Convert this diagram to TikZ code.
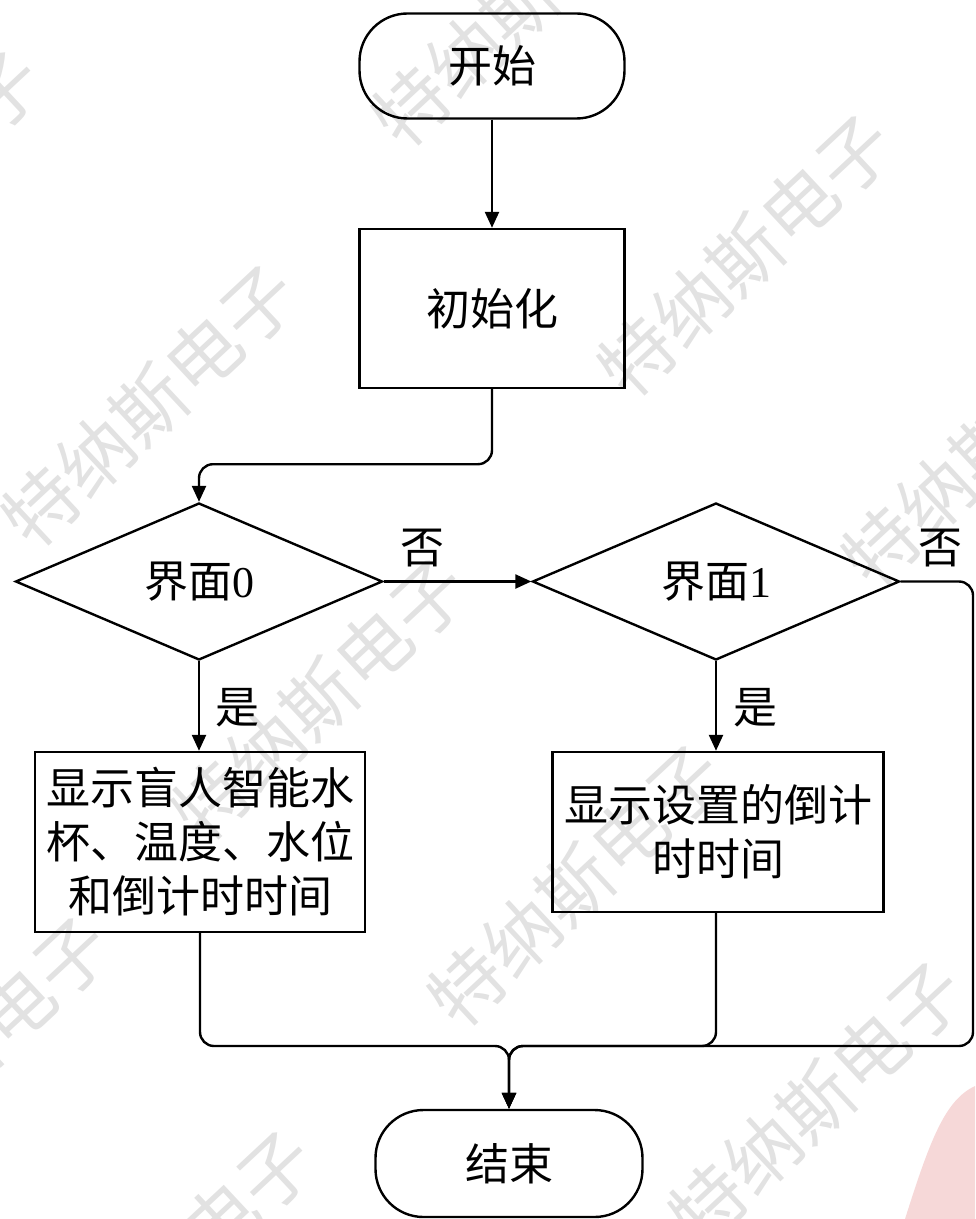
\documentclass[tikz,border=0pt]{standalone}
\usepackage{fontspec}
\setmainfont{Liberation Serif}
\newfontfamily\cjk{Noto Sans CJK SC}
\usetikzlibrary{shapes.geometric,arrows.meta}
\definecolor{blob}{RGB}{246,216,216}
\definecolor{wmark}{RGB}{226,226,226}
\tikzset{
  base/.style={draw, line width=1.2pt, font=\cjk\fontsize{22}{27}\selectfont, align=center, inner sep=0pt},
  term/.style={base, rounded corners=24pt, minimum width=132.5pt, minimum height=52.5pt},
  proc/.style={base, rectangle},
  dec/.style={base, diamond, minimum width=183.5pt, minimum height=78.5pt},
  conn/.style={line width=1.2pt, rounded corners=7pt},
  arr/.style={conn, -{Triangle[length=8pt,width=7pt]}},
  lab/.style={font=\cjk\fontsize{22}{27}\selectfont, inner sep=0pt},
  wm/.style={text=wmark, font=\cjk\fontsize{37}{37}\selectfont, rotate=43, inner sep=0pt}
}
\begin{document}
\begin{tikzpicture}[x=0.5pt,y=-0.5pt]
\useasboundingbox (0,0) rectangle (975,1219);
\begin{scope}
\clip (0,0) rectangle (975,1219);
\fill[blob] (905,1219) .. controls (930,1140) and (945,1100) .. (975,1086) -- (975,1219) -- cycle;
\node[wm] (w1) at (746,256) {特纳斯电子};
\node[wm] (w2) at (150,406) {特纳斯电子};
\node[wm] (w3) at (520,6) {特纳斯电子};
\node[wm] (w4) at (-105,192) {特纳斯电子};
\node[wm] (w5) at (320,700) {特纳斯电子};
\node[wm] (w6) at (-37,1058) {特纳斯电子};
\node[wm] (w7) at (167,1272) {特纳斯电子};
\node[wm] (w8) at (576,886) {特纳斯电子};
\node[wm] (w9) at (817,1103) {特纳斯电子};
\node[wm] (w10) at (990,446) {特纳斯电子};
\end{scope}

\node[term] (start) at (492,66) {开始};
\node[proc, minimum width=132.5pt, minimum height=79.5pt] (init) at (492,308.5) {初始化};
\node[dec] (d0) at (199,581.5) {界面{\rmfamily 0}};
\node[dec] (d1) at (716,581.5) {界面{\rmfamily 1}};
\node[proc, minimum width=165pt, minimum height=90pt] (b0) at (200,842) {显示盲人智能水\\杯、温度、水位\\和倒计时时间};
\node[proc, minimum width=165.5pt, minimum height=80pt] (b1) at (718,832) {显示设置的倒计\\时时间};
\node[term, minimum width=133.5pt, minimum height=53.5pt] (end) at (509,1163.5) {结束};

\node[lab] (no0) at (422,548) {否};
\node[lab] (no1) at (940,548) {否};
\node[lab] (yes0) at (237,708) {是};
\node[lab] (yes1) at (755,708) {是};

\coordinate (mj) at (509,1046);
\coordinate (rc) at (973,1046);

\draw[arr] (start) -- (init);
\draw[arr] (init.south) -- ++(0,75) -| (d0.north);
\draw[arr] (d0.east) -- (d1.west);
\draw[arr] (d0.south) -- (d0.south |- b0.north);
\draw[arr] (d1.south) -- (d1.south |- b1.north);
\draw[arr] (b0.south) |- (mj) -- (end.north);
\draw[arr] (b1.south -| d1.south) |- (mj) -- (end.north);
\draw[arr] (d1.east) -| (rc) -- (mj) -- (end.north);
\end{tikzpicture}
\end{document}
